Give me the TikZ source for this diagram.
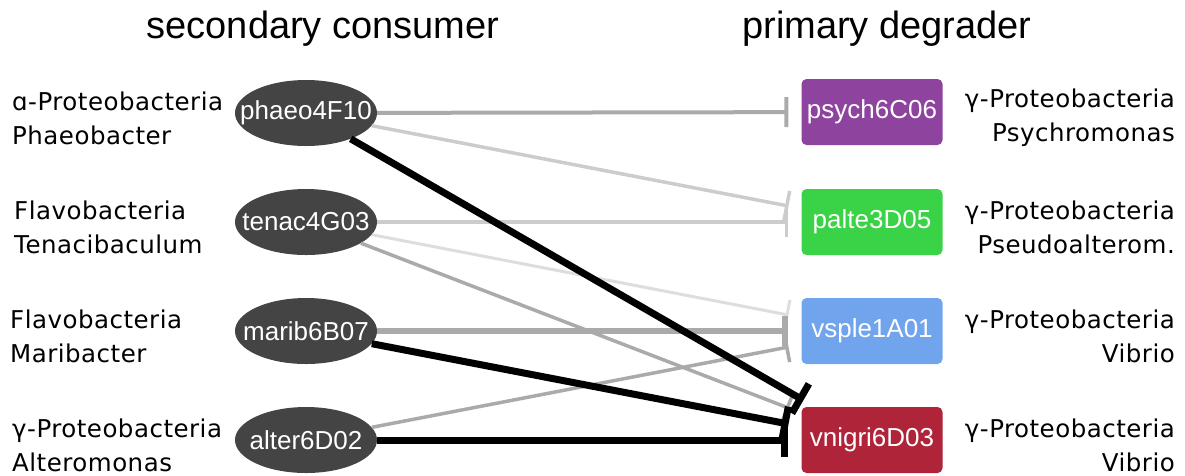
\documentclass[tikz,border=0pt]{standalone}
\usepackage{fontspec}
\usepackage{tikz}
\usetikzlibrary{arrows.meta,shapes.geometric}
\newfontfamily\arialf{Liberation Sans}
\newfontfamily\taxf[LetterSpace=2]{DejaVu Sans}
\definecolor{consgray}{HTML}{444444}
\definecolor{psychcol}{HTML}{8E449E}
\definecolor{paltecol}{HTML}{3AD246}
\definecolor{vsplecol}{HTML}{70A4EC}
\definecolor{vnigricol}{HTML}{B0243A}
\definecolor{lgray}{HTML}{CCCCCC}
\definecolor{llgray}{HTML}{DDDDDD}
\definecolor{mgray}{HTML}{AAAAAA}

\begin{document}
\begin{tikzpicture}[x=1pt,y=-1pt,
    cons/.style={ellipse,fill=consgray,text=white,minimum width=142pt,minimum height=66pt,inner xsep=-16pt,inner ysep=0pt,font=\arialf\fontsize{26}{30}\selectfont},
    degr/.style={rounded corners=5pt,text=white,minimum width=141pt,minimum height=66pt,inner sep=0pt,font=\arialf\fontsize{26}{30}\selectfont},
    tax/.style={font=\taxf\fontsize{24.5}{34}\selectfont,inner sep=0pt},
    ttl/.style={font=\arialf\fontsize{38}{44}\selectfont,anchor=base,inner sep=0pt},
    inh/.style={shorten >=13pt,-{Bar[width=30pt]}},
    inhb/.style={shorten >=13pt,-{Bar[width=34pt]}}]
				\useasboundingbox (0,0) rectangle (1185,475);
				%\draw[help lines,step=50] (0,0) grid (1185,475);
				\node[ttl] (tcons) at (323,38) {secondary consumer};
				\node[ttl] (tdegr) at (887,38) {primary degrader};
				% secondary consumers
				\node[cons] (phaeo) at (306,113) {phaeo4F10};
				\node[cons] (tenac) at (306,222) {tenac4G03};
				\node[cons] (marib) at (306,331) {marib6B07};
				\node[cons] (alter) at (306,440) {alter6D02};
				% primary degraders
				\node[degr,fill=psychcol] (psych) at (872,112) {psych6C06};
				\node[degr,fill=paltecol] (palte) at (872,222) {palte3D05};
				\node[degr,fill=vsplecol] (vsple) at (872,331) {vsple1A01};
				\node[degr,fill=vnigricol] (vnigri) at (872,440) {vnigri6D03};
				% taxonomy
				\node[tax,anchor=west,align=left] (lphaeo) at (12,118) {ɑ-Proteobacteria\\Phaeobacter};
				\node[tax,anchor=west,align=left] (ltenac) at (14,227) {Flavobacteria\\Tenacibaculum};
				\node[tax,anchor=west,align=left] (lmarib) at (10,336) {Flavobacteria\\Maribacter};
				\node[tax,anchor=west,align=left] (lalter) at (12,445) {γ-Proteobacteria\\Alteromonas};
				\node[tax,anchor=east,align=right] (lpsych) at (1175,118) {γ-Proteobacteria\\Psychromonas};
				\node[tax,anchor=east,align=right] (lpalte) at (1175,227) {γ-Proteobacteria\\Pseudoalterom.};
				\node[tax,anchor=east,align=right] (lvsple) at (1175,336) {γ-Proteobacteria\\Vibrio};
				\node[tax,anchor=east,align=right] (lvnigri) at (1175,445) {γ-Proteobacteria\\Vibrio};
				% interactions
				\draw[inh,mgray,line width=4pt] (phaeo) -- (psych);
				\draw[inh,lgray,line width=3.5pt] (phaeo) -- (palte);
				\draw[inh,lgray,line width=3.5pt] (tenac) -- (palte);
				\draw[inh,llgray,line width=3pt] (tenac) -- (vsple);
				\draw[inh,mgray,line width=6pt] (marib) -- (vsple);
				\draw[inh,mgray,line width=3.5pt] (alter) -- (vsple);
				\draw[inh,mgray,line width=3.5pt] (tenac) -- (vnigri);
				\draw[inhb,black,line width=7pt] (phaeo) -- (vnigri);
				\draw[inhb,black,line width=7pt] (marib) -- (vnigri);
				\draw[inhb,black,line width=7pt] (alter) -- (vnigri);
			\end{tikzpicture}
\end{document}
